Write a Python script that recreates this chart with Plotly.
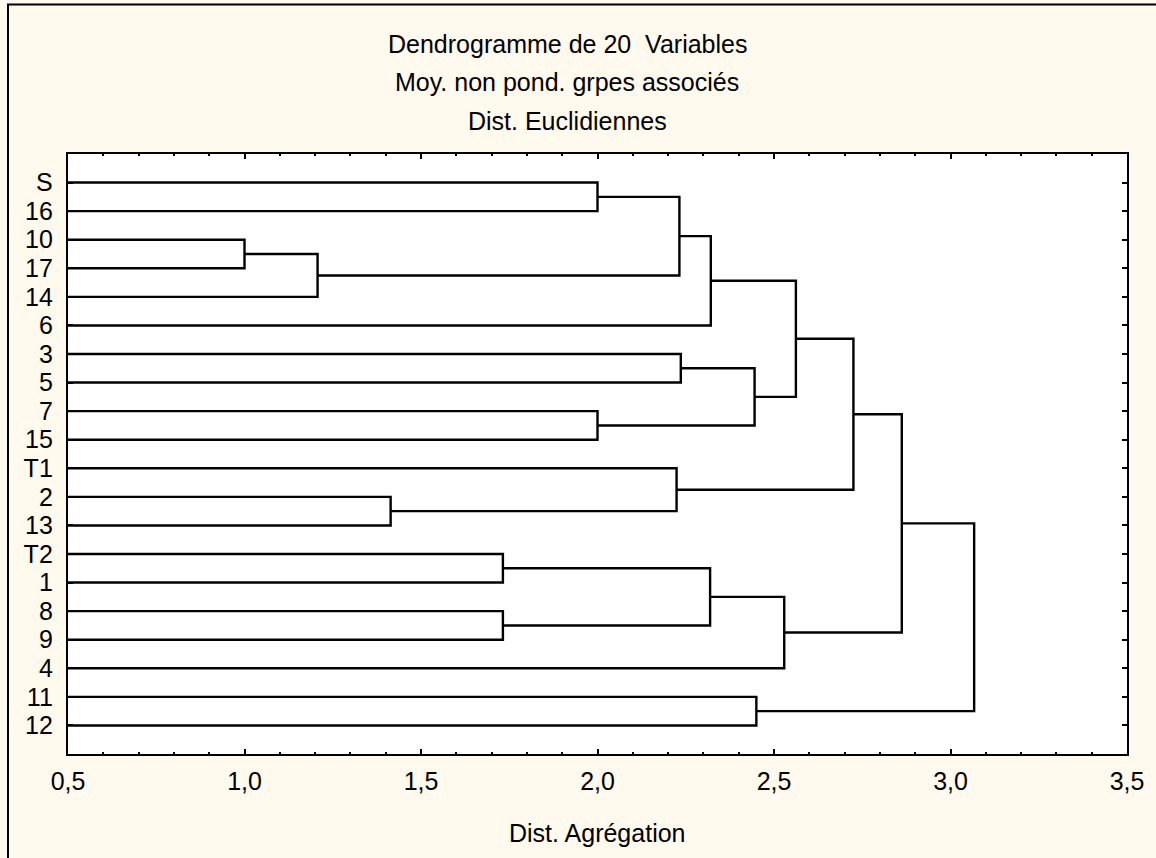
import plotly.graph_objects as go

# ---- data ----
leaf_labels = ["S", "16", "10", "17", "14", "6", "3", "5", "7", "15",
               "T1", "2", "13", "T2", "1", "8", "9", "4", "11", "12"]
# merges: children index (0..19 leaves, 20+k = cluster created by merge k)
merge_left = [2, 20, 11, 13, 15, 0, 8, 10, 25, 6, 23, 28, 29, 18, 30, 31, 35, 36, 37]
merge_right = [3, 4, 12, 14, 16, 1, 9, 22, 21, 7, 24, 5, 26, 19, 17, 32, 27, 34, 33]
merge_height = [1.0, 1.207, 1.414, 1.732, 1.732, 2.0, 2.0, 2.224, 2.232, 2.236,
                2.319, 2.321, 2.445, 2.45, 2.529, 2.562, 2.725, 2.862, 3.067]
x_tick_vals = [0.5, 1.0, 1.5, 2.0, 2.5, 3.0, 3.5]

title_lines = ["Dendrogramme de 20\u00a0\u00a0Variables",
               "Moy. non pond. grpes associés",
               "Dist. Euclidiennes"]
x_title = "Dist. Agrégation"

# ---- build dendrogram segments ----
n = len(leaf_labels)
pos = {i: i + 1 for i in range(n)}
hgt = {i: 0.0 for i in range(n)}
xs, ys = [], []
for k, (a, b, h) in enumerate(zip(merge_left, merge_right, merge_height)):
    ya, yb = pos[a], pos[b]
    xs += [hgt[a], h, h, hgt[b], None]
    ys += [ya, ya, yb, yb, None]
    pos[n + k] = (ya + yb) / 2
    hgt[n + k] = h

FONT = "Liberation Sans, Arial, sans-serif"
FS = 25

fig = go.Figure()
fig.add_trace(go.Scatter(x=xs, y=ys, mode="lines",
                         line=dict(color="black", width=2.4),
                         hoverinfo="skip", showlegend=False))

fig.update_layout(
    width=1156, height=858,
    margin=dict(l=68, r=29, t=154, b=104),
    paper_bgcolor="#FFF9EE",
    plot_bgcolor="white",
    separators=", ",
    font=dict(family=FONT, size=FS, color="black"),
)

fig.update_xaxes(
    range=[0.5, 3.5], tickvals=x_tick_vals, tickformat=".1f",
    showline=True, linewidth=2.4, linecolor="black", mirror="allticks",
    ticks="inside", ticklen=5, tickwidth=2, tickcolor="black",
    minor=dict(ticks="inside", dtick=0.1, ticklen=2, tickwidth=2, tickcolor="black", showgrid=False),
    showgrid=False, zeroline=False,
    ticklabelstandoff=4,
    tickfont=dict(family=FONT, size=FS),
)
fig.update_yaxes(
    range=[21, 0], tickvals=list(range(1, n + 1)), ticktext=leaf_labels,
    showline=True, linewidth=2.4, linecolor="black", mirror="allticks",
    ticks="inside", ticklen=5, tickwidth=2, tickcolor="black",
    showgrid=False, zeroline=False,
    ticklabelstandoff=8,
    tickfont=dict(family=FONT, size=FS),
)

# title lines
title_y_px = [44, 82, 121]
for txt, ypx in zip(title_lines, title_y_px):
    fig.add_annotation(text=txt, xref="paper", yref="paper",
                       x=(567 - 68) / 1059, y=1 + (154 - ypx) / 600,
                       xanchor="center", yanchor="middle", showarrow=False,
                       font=dict(family=FONT, size=FS))

fig.add_annotation(text=x_title, xref="paper", yref="paper",
                   x=0.5, y=-(833 - 754) / 600, xanchor="center", yanchor="middle",
                   showarrow=False, font=dict(family=FONT, size=FS))

# outer frame
fig.add_shape(type="rect", xref="paper", yref="paper",
              x0=(8 - 68) / 1059, x1=1.2, y0=-0.5, y1=1 + (154 - 4.5) / 600,
              line=dict(color="black", width=2), fillcolor="rgba(0,0,0,0)", layer="below")

fig.write_html("out.html")
